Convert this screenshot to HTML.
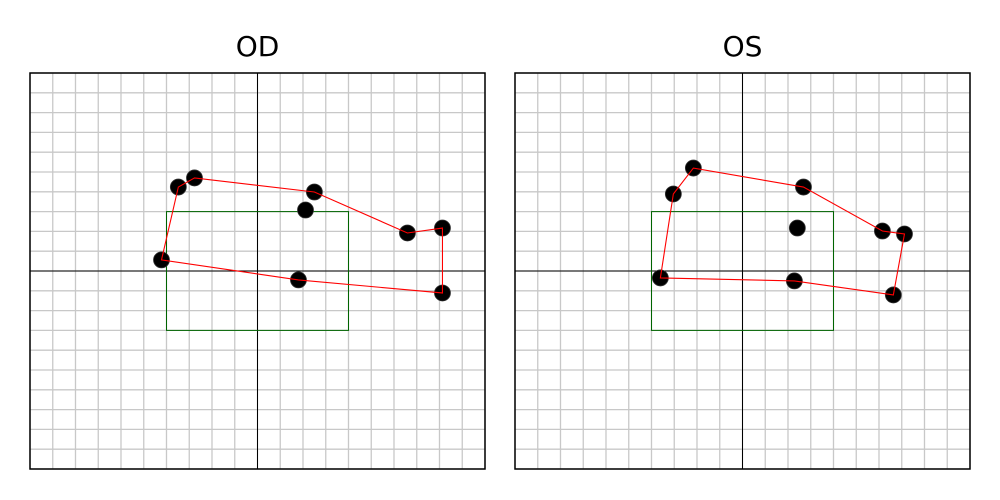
<!DOCTYPE html>
<html><head><meta charset="utf-8"><style>
html,body{margin:0;padding:0;background:#fff;width:1000px;height:500px;overflow:hidden}
svg{display:block;font-family:"DejaVu Sans","Liberation Sans",sans-serif}
</style></head><body>
<svg id="chart" width="1000" height="500" xmlns="http://www.w3.org/2000/svg"></svg>
<script>
const panelNames = ["OD", "OS"];
const odX = [-4.22, -3.48, -2.77, 2.50, 6.59, 8.13, 8.13, 1.80, 2.11];
const odY = [0.56, 4.24, 4.70, 3.99, 1.92, 2.17, -1.11, -0.45, 3.08];
const odPoly = [0, 1, 2, 3, 4, 5, 6, 7];
const osX = [-3.61, -3.04, -2.16, 2.68, 6.15, 7.12, 6.63, 2.28, 2.41];
const osY = [-0.35, 3.89, 5.20, 4.24, 2.02, 1.87, -1.21, -0.50, 2.17];
const osPoly = [0, 1, 2, 3, 4, 5, 6, 7];
const boxX = [-4, 4];
const boxY = [-3, 3];
const gridTicks = [-10,-9,-8,-7,-6,-5,-4,-3,-2,-1,0,1,2,3,4,5,6,7,8,9,10];

const NS = "http://www.w3.org/2000/svg";
const svg = document.getElementById("chart");
function mk(tag, attrs, parent) {
  const e = document.createElementNS(NS, tag);
  for (const k in attrs) e.setAttribute(k, attrs[k]);
  (parent || svg).appendChild(e);
  return e;
}
const panels = [
  {left: 30, xs: odX, ys: odY, poly: odPoly},
  {left: 515, xs: osX, ys: osY, poly: osPoly}
];
const W = 455, TOP = 73, H = 396;
panels.forEach((p, i) => {
  const g = mk("g", {});
  
  
  const sx = v => p.left + (v + 10) / 20 * W;
  const sy = v => TOP + (10 - v) / 20 * H;
  gridTicks.forEach(t => {
    const lv = mk("line", {x1: sx(t), x2: sx(t), y1: TOP, y2: TOP + H, stroke: "#c8c8c8", "stroke-width": 1.3}, g);
    
    
    const lh = mk("line", {x1: p.left, x2: p.left + W, y1: sy(t), y2: sy(t), stroke: "#c8c8c8", "stroke-width": 1.3}, g);
    
    
  });
  const ax = mk("line", {x1: p.left, x2: p.left + W, y1: sy(0), y2: sy(0), stroke: "#000", "stroke-width": 1}, g);
  
  
  const ay = mk("line", {x1: sx(0), x2: sx(0), y1: TOP, y2: TOP + H, stroke: "#000", "stroke-width": 1}, g);
  
  
  const box = mk("rect", {x: sx(boxX[0]), y: sy(boxY[1]), width: sx(boxX[1]) - sx(boxX[0]), height: sy(boxY[0]) - sy(boxY[1]), fill: "none", stroke: "#006400", "stroke-width": 1}, g);
  
  
  p.xs.forEach((v, j) => {
    const c = mk("circle", {cx: sx(v), cy: sy(p.ys[j]), r: 8, fill: "#000", stroke: "#333", "stroke-width": 0.8}, g);
    
    
  });
  const pts = p.poly.map(k => sx(p.xs[k]) + "," + sy(p.ys[k])).join(" ");
  const pl = mk("polygon", {points: pts, fill: "none", stroke: "#ff0000", "stroke-width": 1.1}, g);
  
  
  const fr = mk("rect", {x: p.left, y: TOP, width: W, height: H, fill: "none", stroke: "#000", "stroke-width": 1.5}, g);
  
  
  const t = mk("text", {x: p.left + W / 2, y: 56, "text-anchor": "middle", "font-size": 28, fill: "#000"}, g);
  t.textContent = panelNames[i];
  
  
});
</script>
</body></html>
